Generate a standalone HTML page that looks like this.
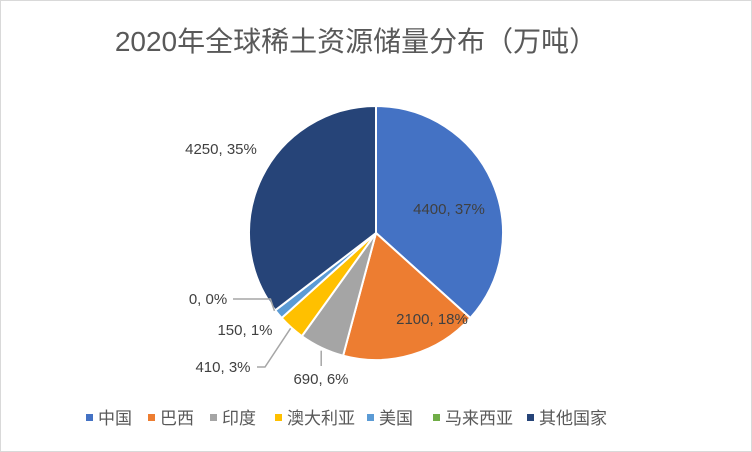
<!DOCTYPE html>
<html><head><meta charset="utf-8"><style>
html,body{margin:0;padding:0;background:#fff}
#wrap{position:relative;width:750px;height:450px;border:1px solid #d9d9d9;overflow:hidden;font-family:"Liberation Sans","Noto Sans CJK SC",sans-serif}
svg text{font-family:"Liberation Sans","Noto Sans CJK SC",sans-serif}
</style></head><body>
<div id="wrap">
<svg id="chart" width="750" height="450">
<text x="355" y="50" text-anchor="middle" font-size="28" fill="#595959">2020年全球稀土资源储量分布（万吨）</text>
<g id="slices"></g><g id="labels"></g><g id="legend"></g>
</svg>
</div>
<script>
const categories = ["中国","巴西","印度","澳大利亚","美国","马来西亚","其他国家"];
const values = [4400,2100,690,410,150,0,4250];
const percentLabels = ["37%","18%","6%","3%","1%","0%","35%"];
const colors = ["#4472c4","#ed7d31","#a5a5a5","#ffc000","#5b9bd5","#70ad47","#264478"];
const NS="http://www.w3.org/2000/svg";
const cx=375, cy=232, r=127;
const total=values.reduce((a,b)=>a+b,0);
const sg=document.getElementById('slices'), lg=document.getElementById('labels'), leg=document.getElementById('legend');
function pt(a,rr){return [cx+rr*Math.sin(a), cy-rr*Math.cos(a)];}
let ang=0;
const mids=[];
values.forEach((v,i)=>{
  const a0=ang, a1=ang+v/total*2*Math.PI; ang=a1;
  mids.push((a0+a1)/2);
  if(v<=0) return;
  const p0=pt(a0,r), p1=pt(a1,r);
  const large=(a1-a0)>Math.PI?1:0;
  const p=document.createElementNS(NS,'path');
  p.setAttribute('d',`M${cx},${cy}L${p0[0]},${p0[1]}A${r},${r} 0 ${large} 1 ${p1[0]},${p1[1]}Z`);
  p.setAttribute('fill',colors[i]); p.setAttribute('stroke','#fff'); p.setAttribute('stroke-width','2');
  
  
  sg.appendChild(p);
});
// label placement: [x, y, anchor, leader?]
const labelPos=[[448,213,'middle',null],[431,323,'middle',null],[320,383,'middle','v'],[222,371,'middle','elbow'],[244,334,'middle',null],[207,303,'middle','h'],[220,153,'middle',null]];
values.forEach((v,i)=>{
  const lp=labelPos[i];
  const t=document.createElementNS(NS,'text');
  t.setAttribute('x',lp[0]); t.setAttribute('y',lp[1]); t.setAttribute('text-anchor',lp[2]);
  t.setAttribute('font-size','15'); t.setAttribute('fill','#404040');
  t.textContent=v+', '+percentLabels[i];
  
  
  lg.appendChild(t);
  if(lp[3]){
    const e=pt(mids[i],r+1);
    let d;
    if(lp[3]==='v') d=`M${e[0]},${e[1]+2}L${e[0]},${lp[1]-18}`;
    else if(lp[3]==='elbow') d=`M${lp[0]+34},${lp[1]-5}L${lp[0]+42},${lp[1]-5}L${e[0]},${e[1]}`;
    else d=`M${lp[0]+25},${lp[1]-5}L${e[0]-4},${lp[1]-5}L${e[0]},${e[1]}`;
    const l=document.createElementNS(NS,'path');
    l.setAttribute('d',d); l.setAttribute('stroke','#a6a6a6'); l.setAttribute('fill','none'); l.setAttribute('stroke-width','1.5');
    
    
    lg.appendChild(l);
  }
});
const legX=[85,147,209,274,366,432,526];
categories.forEach((c,i)=>{
  const g=document.createElementNS(NS,'g');
  
  
  const s=document.createElementNS(NS,'rect');
  s.setAttribute('x',legX[i]); s.setAttribute('y',413); s.setAttribute('width',7); s.setAttribute('height',7); s.setAttribute('fill',colors[i]);
  
  
  const t=document.createElementNS(NS,'text');
  t.setAttribute('x',legX[i]+12); t.setAttribute('y',423); t.setAttribute('font-size','17'); t.setAttribute('fill','#595959');
  t.textContent=c;
  
  
  g.appendChild(s); g.appendChild(t); leg.appendChild(g);
});
</script>
</body></html>
